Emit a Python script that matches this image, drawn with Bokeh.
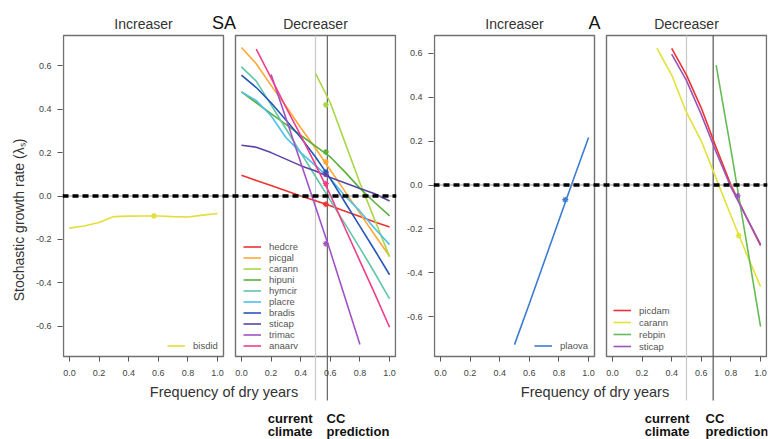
from bokeh.plotting import figure
from bokeh.layouts import row
from bokeh.models import (Range1d, FixedTicker, CustomJSTickFormatter, PrintfTickFormatter,
                          Span, Label, Legend, LegendItem)
from bokeh.embed import file_html
from bokeh.resources import INLINE

# ---------------- data ----------------
x_ticks = [0.0, 0.2, 0.4, 0.6, 0.8, 1.0]
y_ticks = [-0.6, -0.4, -0.2, 0.0, 0.2, 0.4, 0.6]

# SA - Increaser
bisdid_x = [0.0, 0.1, 0.2, 0.3, 0.4, 0.5, 0.6, 0.7, 0.8, 0.9, 1.0]
bisdid_y = [-0.148, -0.138, -0.122, -0.095, -0.093, -0.092, -0.092, -0.095, -0.097, -0.088, -0.081]
bisdid_star = (0.57, -0.092)

# SA - Decreaser
x_full = [0.0, 0.1, 0.2, 0.3, 0.4, 0.5, 0.6, 0.7, 0.8, 0.9, 1.0]
hedcre_y = [0.096, 0.072, 0.048, 0.024, 0.0, -0.022, -0.045, -0.07, -0.095, -0.12, -0.143]
picgal_y = [0.685, 0.61, 0.51, 0.415, 0.315, 0.22, 0.12, 0.02, -0.08, -0.18, -0.278]
hipuni_y = [0.48, 0.43, 0.38, 0.33, 0.28, 0.23, 0.18, 0.11, 0.035, -0.03, -0.092]
hymcir_y = [0.595, 0.53, 0.42, 0.31, 0.2, 0.09, -0.02, -0.13, -0.24, -0.355, -0.474]
placre_y = [0.48, 0.44, 0.37, 0.27, 0.2, 0.14, 0.08, 0.0, -0.07, -0.15, -0.224]
bradis_y = [0.557, 0.5, 0.43, 0.35, 0.27, 0.18, 0.08, -0.03, -0.14, -0.25, -0.363]
sticap_sa_y = [0.234, 0.225, 0.2, 0.17, 0.14, 0.115, 0.085, 0.06, 0.035, 0.01, -0.023]
carann_sa_x = [0.5, 0.6, 0.7, 0.8, 0.9, 1.0]
carann_sa_y = [0.565, 0.43, 0.245, 0.06, -0.11, -0.28]
trimac_x = [0.2, 0.3, 0.4, 0.5, 0.6, 0.7, 0.8]
trimac_y = [0.56, 0.36, 0.155, -0.05, -0.255, -0.47, -0.685]
anaarv_x = [0.1, 0.2, 0.3, 0.4, 0.5, 0.6, 0.7, 0.8, 0.9, 1.0]
anaarv_y = [0.677, 0.545, 0.41, 0.28, 0.145, 0.005, -0.15, -0.3, -0.45, -0.605]
sa_star_x = 0.57
sa_star_names = ["carann", "hipuni", "picgal", "bradis", "sticap", "anaarv", "hedcre", "trimac"]
sa_star_y = [0.42, 0.203, 0.157, 0.11, 0.10, 0.057, -0.038, -0.22]

# A - Increaser
plaova_x = [0.5, 0.6, 0.7, 0.8, 0.9, 1.0]
plaova_y = [-0.726, -0.54, -0.35, -0.16, 0.03, 0.216]
plaova_star = (0.843, -0.067)

# A - Decreaser
picdam_x = [0.4, 0.5, 0.6, 0.7, 0.8, 0.9, 1.0]
picdam_y = [0.621, 0.5, 0.35, 0.17, 0.0, -0.14, -0.276]
carann_a_x = [0.3, 0.4, 0.5, 0.6, 0.7, 0.8, 0.9, 1.0]
carann_a_y = [0.623, 0.5, 0.33, 0.2, 0.03, -0.14, -0.305, -0.462]
rebpin_x = [0.7, 0.8, 0.9, 1.0]
rebpin_y = [0.545, 0.16, -0.24, -0.644]
sticap_a_x = [0.4, 0.5, 0.6, 0.7, 0.8, 0.9, 1.0]
sticap_a_y = [0.595, 0.475, 0.32, 0.15, -0.01, -0.14, -0.27]
a_star_names = ["sticap", "carann"]
a_star_x = [0.845, 0.852]
a_star_y = [-0.049, -0.23]

current_climate = 0.5
cc_prediction_sa = 0.58
cc_prediction_a = 0.68

colors = {
    "bisdid": "#E3DE3C", "hedcre": "#EE3333", "picgal": "#FFA836", "carann": "#A9D846",
    "hipuni": "#5BAF3A", "hymcir": "#5FC7A8", "placre": "#4CC0EE", "bradis": "#2457B8",
    "sticap": "#5A45A5", "trimac": "#A352C5", "anaarv": "#EE3F8C", "plaova": "#3C7DD0",
    "picdam": "#EE3333", "carann_a": "#E2E238", "rebpin": "#66BB55", "sticap_a": "#9955BB",
}

# ---------------- layout ----------------
FONT = "Liberation Sans"
BOX_W, GAP, BOX_H, PAD = 160, 12, 321, 1
FRAME_W = 2 * BOX_W + GAP + 2 * PAD
H = 439
BOX_TOP_PAGE = 35


def make_pair(left_border, right_border, page_x0, ylo, yhi, ylabel=None):
    xpu = BOX_W / 1.08
    ypu = BOX_H / (yhi - ylo)
    x0 = -0.04 - PAD / xpu
    x1 = x0 + FRAME_W / xpu
    shift = (BOX_W + GAP) / xpu
    box_left_page = page_x0 + left_border + PAD

    def xm(px):
        return -0.04 + (px - box_left_page) / xpu

    def yd(py):
        return yhi - (py - BOX_TOP_PAGE) / ypu

    p = figure(width=left_border + FRAME_W + right_border, height=H,
               x_range=Range1d(x0, x1), y_range=Range1d(yd(H), yd(0)),
               min_border_left=left_border, min_border_right=right_border,
               min_border_top=0, min_border_bottom=0,
               output_backend="svg", toolbar_location=None,
               outline_line_color=None, background_fill_color="white",
               border_fill_color="white")
    p.extra_x_ranges = {"p2": Range1d(x0 - shift, x1 - shift)}
    p.xgrid.visible = False
    p.ygrid.visible = False

    # panel boxes
    for rn in ("default", "p2"):
        p.quad(left=-0.04, right=1.04, bottom=ylo, top=yhi, fill_color=None,
               line_color="#707070", line_width=1.4, x_range_name=rn)

    # axes
    xa = p.xaxis[0]
    xa.fixed_location = ylo
    xa.ticker = FixedTicker(ticks=list(x_ticks) + [t + shift for t in x_ticks])
    xa.formatter = CustomJSTickFormatter(args=dict(s=shift), code="""
        let v = tick > 1.1 ? tick - s : tick;
        if (Math.abs(v) < 1e-9) { v = 0; }
        return v.toFixed(1);
    """)
    ya = p.yaxis[0]
    ya.ticker = FixedTicker(ticks=y_ticks)
    ya.formatter = PrintfTickFormatter(format="%.1f")
    ya.bounds = (ylo, yhi)
    for ax in (xa, ya):
        ax.axis_line_color = None
        ax.major_tick_out = 5
        ax.major_tick_in = 0
        ax.major_tick_line_color = "#555555"
        ax.minor_tick_line_color = None
        ax.major_label_text_font = FONT
        ax.major_label_text_font_size = "9px"
        ax.major_label_text_color = "#444444"
    xa.major_label_standoff = 8
    ya.major_label_standoff = 6
    if ylabel:
        ya.axis_label = ylabel
        ya.axis_label_text_font = FONT
        ya.axis_label_text_font_size = "14px"
        ya.axis_label_text_font_style = "normal"
        ya.axis_label_text_color = "#333333"
        ya.axis_label_standoff = 6

    # zero reference line
    p.add_layout(Span(location=0, dimension="width", line_color="#9a9a9a", line_width=1))
    p.add_layout(Span(location=0, dimension="width", line_color="black",
                      line_width=3.3, line_dash="6 4"))
    return p, xm, yd


def label(p, x, y, text, size="14px", align="center", style="normal", color="#333333", rn="default"):
    p.add_layout(Label(x=x, y=y, text=text, text_font=FONT, text_font_size=size,
                       text_align=align, text_baseline="middle", text_font_style=style,
                       text_color=color, x_range_name=rn))


def legend(p, items, vx, vy, h):
    lg = Legend(items=items, location=(vx, vy), padding=0, margin=0, spacing=0,
                border_line_color=None, background_fill_alpha=0,
                glyph_width=18, glyph_height=h, label_height=h, label_standoff=8,
                label_text_font=FONT, label_text_font_size="9.5px", label_text_color="#555555")
    p.add_layout(lg)


LW = 1.6

# ================= SA pair =================
SA_LEFT, SA_RIGHT = 62, 3
p1, xm1, yd1 = make_pair(SA_LEFT, SA_RIGHT, 0, -0.74, 0.74,
                         ylabel="Stochastic growth rate (\u03bb\u209b)")
ybot1 = yd1(400)
p1.segment(x0=[current_climate], y0=[0.74], x1=[current_climate], y1=[ybot1],
           line_color="#c8c8c8", line_width=1.2, x_range_name="p2")
p1.segment(x0=[cc_prediction_sa], y0=[0.74], x1=[cc_prediction_sa], y1=[ybot1],
           line_color="#666666", line_width=1.2, x_range_name="p2")

r_bis = p1.line(bisdid_x, bisdid_y, line_color=colors["bisdid"], line_width=LW)
p1.scatter([bisdid_star[0]], [bisdid_star[1]], marker="asterisk", size=6,
           line_color=colors["bisdid"], line_width=1.3)

sa_series = [
    ("hedcre", x_full, hedcre_y), ("picgal", x_full, picgal_y),
    ("carann", carann_sa_x, carann_sa_y), ("hipuni", x_full, hipuni_y),
    ("hymcir", x_full, hymcir_y), ("placre", x_full, placre_y),
    ("bradis", x_full, bradis_y), ("sticap", x_full, sticap_sa_y),
    ("trimac", trimac_x, trimac_y), ("anaarv", anaarv_x, anaarv_y),
]
sa_items = []
for name, xs, ys in sa_series:
    r = p1.line(xs, ys, line_color=colors[name], line_width=LW, x_range_name="p2")
    sa_items.append(LegendItem(label=name, renderers=[r]))
p1.scatter([sa_star_x] * len(sa_star_y), sa_star_y, marker="asterisk", size=6,
           line_color=[colors[n] for n in sa_star_names], line_width=1.3, x_range_name="p2")

legend(p1, [LegendItem(label="bisdid", renderers=[r_bis])], 105, 88, 11)
legend(p1, sa_items, 181, 88, 11)

label(p1, 0.5, yd1(23), "Increaser")
label(p1, 0.5, yd1(23), "Decreaser", rn="p2")
label(p1, xm1(223.5), yd1(22), "SA", size="18px", color="#111111")
label(p1, xm1(223.5), yd1(391), "Frequency of dry years", size="14.5px")
label(p1, xm1(312), yd1(418), "current", size="13px", align="right", style="bold", color="#111111")
label(p1, xm1(312), yd1(431), "climate", size="13px", align="right", style="bold", color="#111111")
label(p1, xm1(326), yd1(418), "CC", size="13px", align="left", style="bold", color="#111111")
label(p1, xm1(326), yd1(431), "prediction", size="13px", align="left", style="bold", color="#111111")

# ================= A pair =================
A_LEFT, A_RIGHT = 34, 6
A_X0 = SA_LEFT + FRAME_W + SA_RIGHT
p2, xm2, yd2 = make_pair(A_LEFT, A_RIGHT, A_X0, -0.78, 0.68)
ybot2 = yd2(400)
p2.segment(x0=[current_climate], y0=[0.68], x1=[current_climate], y1=[ybot2],
           line_color="#c8c8c8", line_width=1.2, x_range_name="p2")
p2.segment(x0=[cc_prediction_a], y0=[0.68], x1=[cc_prediction_a], y1=[ybot2],
           line_color="#555555", line_width=1.2, x_range_name="p2")

r_pla = p2.line(plaova_x, plaova_y, line_color=colors["plaova"], line_width=LW)
p2.scatter([plaova_star[0]], [plaova_star[1]], marker="asterisk", size=6,
           line_color=colors["plaova"], line_width=1.3)

a_series = [
    ("picdam", "picdam", picdam_x, picdam_y), ("carann", "carann_a", carann_a_x, carann_a_y),
    ("rebpin", "rebpin", rebpin_x, rebpin_y), ("sticap", "sticap_a", sticap_a_x, sticap_a_y),
]
a_items = []
for name, ckey, xs, ys in a_series:
    r = p2.line(xs, ys, line_color=colors[ckey], line_width=LW, x_range_name="p2")
    a_items.append(LegendItem(label=name, renderers=[r]))
p2.scatter(a_star_x, a_star_y, marker="asterisk", size=6,
           line_color=[colors["sticap_a"], colors["carann_a"]], line_width=1.3, x_range_name="p2")

legend(p2, [LegendItem(label="plaova", renderers=[r_pla])], 101, 88, 11)
legend(p2, a_items, 180, 87, 12)

label(p2, 0.5, yd2(23), "Increaser")
label(p2, 0.5, yd2(23), "Decreaser", rn="p2")
label(p2, xm2(594), yd2(22), "A", size="18px", color="#111111")
label(p2, xm2(594.5), yd2(391), "Frequency of dry years", size="14.5px")
label(p2, xm2(689), yd2(418), "current", size="13px", align="right", style="bold", color="#111111")
label(p2, xm2(689), yd2(431), "climate", size="13px", align="right", style="bold", color="#111111")
label(p2, xm2(705), yd2(418), "CC", size="13px", align="left", style="bold", color="#111111")
label(p2, xm2(705), yd2(431), "prediction", size="13px", align="left", style="bold", color="#111111")

layout = row(p1, p2)
open("out.html", "w").write(file_html(layout, INLINE))
